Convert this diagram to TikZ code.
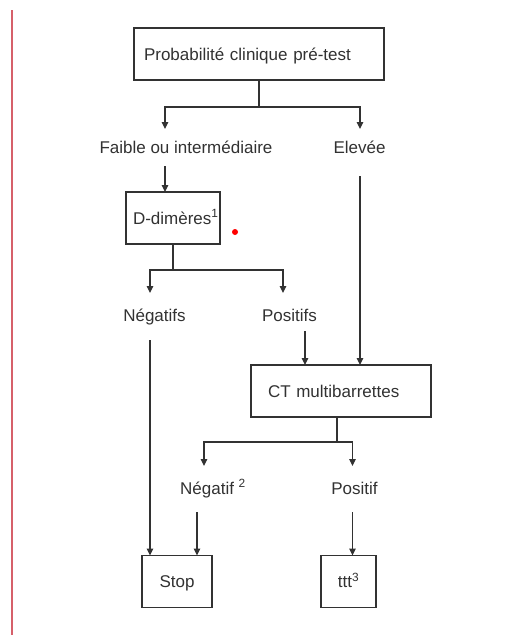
\documentclass[tikz,border=0pt]{standalone}
\usepackage{fontspec}
\setmainfont{Liberation Sans}
\usetikzlibrary{arrows.meta}
\definecolor{ink}{RGB}{50,50,50}
\definecolor{margin}{RGB}{214,96,106}
\begin{document}
\begin{tikzpicture}[x=1pt,y=-1pt,
  every node/.style={font=\fontsize{17pt}{20pt}\selectfont, text=ink, outer sep=0pt},
  box/.style={draw=ink, line width=1.4pt, minimum height=52pt, text height=12.2pt, text depth=0pt},
  lbl/.style={inner sep=0pt, anchor=base, text height=12.5pt, text depth=3.5pt},
  ln/.style={draw=ink, line width=1.2pt},
  arr/.style={ln, -{Triangle[length=7pt,width=6.5pt]}}]
\useasboundingbox[fill=white] (0,0) rectangle (508,635);
% margin rule
\draw[margin, line width=2pt] (12,10) -- (12,635);

% boxes
\node[box, text width=230pt, inner xsep=10pt, align=left] (top) at (259,54) {Probabilité clinique pré-test};
\node[box, text width=88pt, inner xsep=3pt, align=left] (dd) at (173,218) {\hspace*{4pt}\mbox{D-dimères\textsuperscript{1}}};
\node[box, text width=146pt, inner xsep=17pt, align=left] (ct) at (341,391) {CT multibarrettes};
\node[box, text width=56pt, inner xsep=7pt, align=center] (stop) at (177,581.5) {Stop};
\node[box, text width=41pt, inner xsep=7pt, align=center] (ttt) at (348.5,581.5) {ttt\textsuperscript{3}};

% branch labels
\node[lbl] (faible) at (186,153) {Faible ou intermédiaire};
\node[lbl] (elevee) at (359.5,153) {Elevée};
\node[lbl] (neg) at (154.5,321) {Négatifs};
\node[lbl] (pos) at (289.5,321) {Positifs};
\node[lbl] (neg2) at (213,494) {Négatif \textsuperscript{2}};
\node[lbl] (pos2) at (354.5,494) {Positif};

% red mark
\fill[red] (235,232) circle (3pt);

% columns and junctions
\coordinate (xa) at (165,0);
\coordinate (xb) at (360,0);
\coordinate (xc) at (150,0);
\coordinate (xd) at (283,0);
\coordinate (xe) at (305,0);
\coordinate (xf) at (204,0);
\coordinate (xg) at (197,0);
\coordinate (xh) at (352.5,0);
\coordinate (j1) at (259,107);
\coordinate (j2) at (173,270);
\coordinate (j3) at (337,442);

% connectors
\draw[ln] (top.south) -- (j1);
\draw[arr, shorten >=11.5pt] (j1) -| (xa |- faible.north);
\draw[arr, shorten >=11.5pt] (j1) -| (xb |- elevee.north);
\draw[arr, shorten <=9.5pt] (xa |- faible.south) -- (xa |- dd.north);
\draw[arr, shorten <=19.5pt] (xb |- elevee.south) -- (xb |- ct.north);

\draw[ln] (dd.south) -- (j2);
\draw[arr, shorten >=15.5pt] (j2) -| (xc |- neg.north);
\draw[arr, shorten >=15.5pt] (j2) -| (xd |- pos.north);
\draw[arr, shorten <=15.5pt] (xc |- neg.south) -- (xc |- stop.north);
\draw[arr, shorten <=6.5pt] (xe |- pos.south) -- (xe |- ct.north);

\draw[ln] (ct.south -| j3) -- (j3);
\draw[arr, shorten >=15.5pt] (j3) -| (xf |- neg2.north);
\draw[arr, shorten >=15.5pt] (j3) -| (xh |- pos2.north);
\draw[arr, shorten <=14.5pt] (xg |- neg2.south) -- (xg |- stop.north);
\draw[arr, shorten <=14.5pt] (xh |- pos2.south) -- (xh |- ttt.north);
\end{tikzpicture}
\end{document}
